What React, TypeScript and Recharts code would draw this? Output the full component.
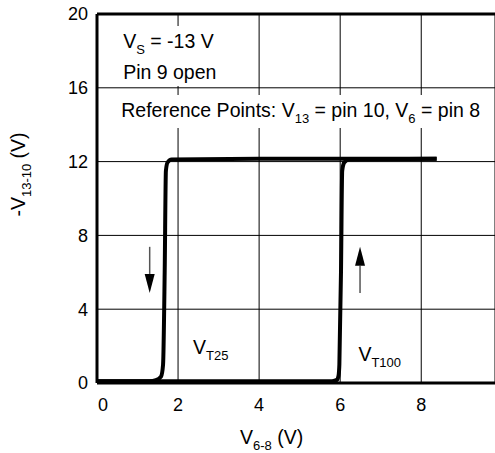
import React from 'react';
import {
  LineChart,
  Line,
  XAxis,
  YAxis,
  CartesianGrid,
  ReferenceLine,
  ReferenceArea,
  ReferenceDot,
  Label
} from 'recharts';

const FONT = '"Liberation Sans", Arial, Helvetica, sans-serif';
const TEXT = 19.5;
const SUB = 13;

const xTicks = [0, 2, 4, 6, 8];
const yTicks = [0, 4, 8, 12, 16, 20];

// V_T25 branch (switches down near 1.7 V), left to right
const t25X = [0, 1.3, 1.45, 1.58, 1.63, 1.67, 1.7, 1.74, 1.84, 4, 8.38];
const t25Y = [0.1, 0.1, 0.15, 0.35, 1, 6, 11.5, 11.95, 12.12, 12.15, 12.15];

// V_T100 branch (switches up near 6 V)
const t100X = [0, 5.8, 5.92, 5.96, 5.98, 6.02, 6.05, 6.1, 6.22, 8.38];
const t100Y = [0.1, 0.1, 0.17, 0.4, 1, 6, 11.5, 11.95, 12.12, 12.15];

// direction arrows: x position, start and end level
const arrowX = [1.3, 6.49];
const arrowFrom = [7.38, 4.88];
const arrowTo = [4.88, 7.38];

const t25Data = t25X.map((x, i) => ({ x, y: t25Y[i] }));
const t100Data = t100X.map((x, i) => ({ x, y: t100Y[i] }));

function Arrow(props: any) {
  const { x1, y1, x2, y2 } = props;
  const dir = y2 > y1 ? 1 : -1;
  const by = y2 - dir * 19;
  return (
    <g>
      <line x1={x1} y1={y1} x2={x1} y2={by} stroke="#555" strokeWidth={1.5} />
      <polygon points={`${x2},${y2} ${x2 - 5},${by} ${x2 + 5},${by}`} fill="#000" />
    </g>
  );
}

function Sub({ main, sub, rest }: { main: string; sub: string; rest?: string }) {
  return (
    <>
      <tspan>{main}</tspan>
      <tspan fontSize={SUB} dy={6}>{sub}</tspan>
      {rest ? <tspan dy={-6}>{rest}</tspan> : null}
    </>
  );
}

function XTick(props: any) {
  const { x, y, payload } = props;
  return (
    <text
      x={x + (payload.value === 0 ? 6 : 0)}
      y={y}
      dy="0.71em"
      textAnchor="middle"
      fill="#000"
      fontSize={18}
      fontFamily={FONT}
    >
      {payload.value}
    </text>
  );
}

export default function App() {
  return (
    <div style={{ position: 'absolute', left: 0, top: 0, background: '#fff' }}>
      <LineChart width={495} height={453} margin={{ top: 14, right: 0, bottom: 0, left: 0 }}>
        <CartesianGrid stroke="#000" strokeWidth={1} />
        <XAxis
          type="number"
          dataKey="x"
          domain={[0, 9.82]}
          ticks={xTicks}
          allowDataOverflow
          height={70}
          tickSize={0}
          tickMargin={15}
          tickLine={false}
          axisLine={{ stroke: '#000', strokeWidth: 3 }}
          tick={<XTick />}
        >
          <Label
            content={({ viewBox }: any) => (
              <text
                x={viewBox.x + 143}
                y={viewBox.y + 61}
                fill="#000"
                fontSize={TEXT}
                fontFamily={FONT}
              >
                <Sub main="V" sub="6-8" rest=" (V)" />
              </text>
            )}
          />
        </XAxis>
        <YAxis
          type="number"
          domain={[0, 20]}
          ticks={yTicks}
          width={97}
          tickSize={0}
          tickMargin={9}
          tickLine={false}
          axisLine={{ stroke: '#000', strokeWidth: 3 }}
          tick={{ fill: '#000', fontSize: 18, fontFamily: FONT }}
        >
          <Label
            content={({ viewBox }: any) => (
              <text
                transform={`translate(${viewBox.x + 25},${viewBox.y + viewBox.height / 2 - 24}) rotate(-90)`}
                textAnchor="middle"
                fill="#000"
                fontSize={TEXT}
                fontFamily={FONT}
              >
                <Sub main="-V" sub="13-10" rest=" (V)" />
              </text>
            )}
          />
        </YAxis>
        <ReferenceLine y={20} stroke="#000" strokeWidth={3} />
        <ReferenceArea x1={0.3} x2={3.0} y1={16.1} y2={19.35} fill="#fff" fillOpacity={1} stroke="none">
          <Label
            content={({ viewBox }: any) => (
              <g fontFamily={FONT} fontSize={TEXT} fill="#000">
                <text x={viewBox.x + 14} y={viewBox.y + 22}>
                  <Sub main="V" sub="S" rest=" = -13 V" />
                </text>
                <text x={viewBox.x + 14} y={viewBox.y + 53}>Pin 9 open</text>
              </g>
            )}
          />
        </ReferenceArea>
        <ReferenceArea x1={0.45} x2={9.6} y1={13.82} y2={15.61} fill="#fff" fillOpacity={1} stroke="none">
          <Label
            content={({ viewBox }: any) => (
              <text x={viewBox.x + 6} y={viewBox.y + 22} fontFamily={FONT} fontSize={TEXT} fill="#000">
                <tspan>Reference Points: V</tspan>
                <tspan fontSize={SUB} dy={6}>13</tspan>
                <tspan dy={-6}> = pin 10, V</tspan>
                <tspan fontSize={SUB} dy={6}>6</tspan>
                <tspan dy={-6}> = pin 8</tspan>
              </text>
            )}
          />
        </ReferenceArea>
        {arrowX.map((ax, i) => (
          <ReferenceLine
            key={i}
            segment={[{ x: ax, y: arrowFrom[i] }, { x: ax, y: arrowTo[i] }]}
            shape={Arrow}
          />
        ))}
        <ReferenceDot x={2.37} y={1.55} r={0} fill="none" stroke="none">
          <Label
            content={({ viewBox }: any) => (
              <text x={viewBox.x} y={viewBox.y} fontFamily={FONT} fontSize={TEXT} fill="#000">
                <Sub main="V" sub="T25" />
              </text>
            )}
          />
        </ReferenceDot>
        <ReferenceDot x={6.45} y={1.17} r={0} fill="none" stroke="none">
          <Label
            content={({ viewBox }: any) => (
              <text x={viewBox.x} y={viewBox.y} fontFamily={FONT} fontSize={TEXT} fill="#000">
                <Sub main="V" sub="T100" />
              </text>
            )}
          />
        </ReferenceDot>
        <Line
          data={t25Data}
          dataKey="y"
          type="monotone"
          stroke="#000"
          strokeWidth={4}
          dot={false}
          activeDot={false}
          isAnimationActive={false}
        />
        <Line
          data={t100Data}
          dataKey="y"
          type="monotone"
          stroke="#000"
          strokeWidth={4}
          dot={false}
          activeDot={false}
          isAnimationActive={false}
        />
      </LineChart>
    </div>
  );
}
